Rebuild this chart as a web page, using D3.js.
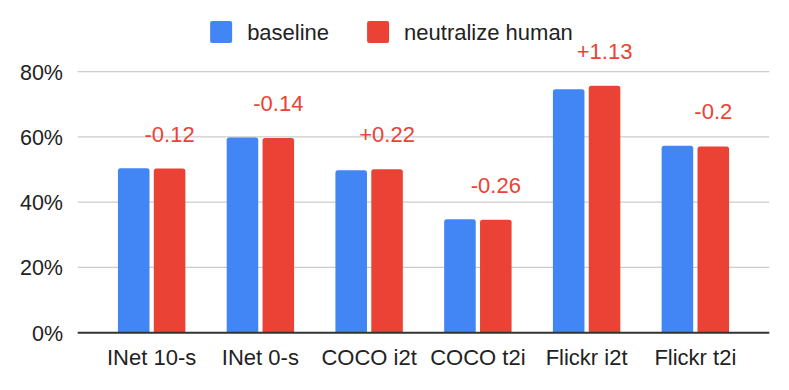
<!DOCTYPE html>
<html>
<head>
<meta charset="utf-8">
<script src="https://cdn.jsdelivr.net/npm/d3@7"></script>
<style>
  body { margin: 0; background: #fff; }
  svg { display: block; font-family: "Liberation Sans", Arial, sans-serif; }
</style>
</head>
<body>
<svg width="789" height="390"></svg>
<script>
const categories = ['INet 10-s', 'INet 0-s', 'COCO i2t', 'COCO t2i', 'Flickr i2t', 'Flickr t2i'];
const seriesNames = ['baseline', 'neutralize human'];
const baseline = [50.4, 59.8, 49.8, 34.8, 74.6, 57.3];
const neutralize = [50.3, 59.7, 50.1, 34.6, 75.7, 57.1];
const deltas = ['-0.12', '-0.14', '+0.22', '-0.26', '+1.13', '-0.2'];
const yTicks = [0, 20, 40, 60, 80];

const svg = d3.select('svg');
const width = +svg.attr('width');
const blue = '#4285F4';
const red = '#EA4335';
const colors = [blue, red];

const plotLeft = 77.7, plotRight = 769.3, plotTop = 71.7, plotBottom = 332.7;

const x0 = d3.scaleBand().domain(categories).range([plotLeft, plotRight])
  .paddingInner(0.38).paddingOuter(0.37);
const x1 = d3.scaleBand().domain(seriesNames).range([0, x0.bandwidth()])
  .paddingInner(0.12);
const y = d3.scaleLinear().domain([0, 80]).range([plotBottom, plotTop]);

// gridlines
svg.append('g').selectAll('line').data(yTicks.filter(d => d > 0)).join('line')
  .attr('x1', plotLeft).attr('x2', plotRight)
  .attr('y1', d => y(d)).attr('y2', d => y(d))
  .attr('stroke', '#cccccc').attr('stroke-width', 1.3);

// tick labels
svg.append('g').selectAll('text').data(yTicks).join('text')
  .attr('x', 63).attr('y', d => y(d) + 8)
  .attr('text-anchor', 'end')
  .attr('font-size', 21.5).attr('fill', '#222')
  .text(d => d + '%');

function topRounded(x, yTop, w, h, r) {
  return `M${x},${yTop + h}V${yTop + r}Q${x},${yTop} ${x + r},${yTop}` +
    `H${x + w - r}Q${x + w},${yTop} ${x + w},${yTop + r}V${yTop + h}Z`;
}

const rows = categories.map((c, i) => ({ cat: c, vals: [baseline[i], neutralize[i]], delta: deltas[i] }));

const groups = svg.append('g').selectAll('g').data(rows).join('g')
  .attr('transform', d => `translate(${x0(d.cat)},0)`);

groups.selectAll('path').data(d => d.vals.map((v, k) => ({ v, k }))).join('path')
  .attr('d', d => topRounded(x1(seriesNames[d.k]), y(d.v), x1.bandwidth(), plotBottom - y(d.v), 2.5))
  .attr('fill', d => colors[d.k]);

groups.append('text')
  .attr('x', x1(seriesNames[1]) + x1.bandwidth() / 2)
  .attr('y', d => y(d.vals[1]) - 27)
  .attr('text-anchor', 'middle')
  .attr('font-size', 22).attr('fill', red)
  .text(d => d.delta);

// baseline axis
svg.append('line')
  .attr('x1', plotLeft).attr('x2', plotRight).attr('y1', plotBottom).attr('y2', plotBottom)
  .attr('stroke', '#333').attr('stroke-width', 2);

// category labels
svg.append('g').selectAll('text').data(categories).join('text')
  .attr('x', d => x0(d) + x0.bandwidth() / 2).attr('y', 365)
  .attr('text-anchor', 'middle')
  .attr('font-size', 22).attr('fill', '#222')
  .text(d => d);

// legend
const legend = svg.append('g');
let lx = 0;
seriesNames.forEach((name, k) => {
  const item = legend.append('g').attr('transform', `translate(${lx},0)`);
  item.append('rect').attr('x', 0).attr('y', 21).attr('width', 22).attr('height', 22)
    .attr('rx', 2).attr('fill', colors[k]);
  const t = item.append('text').attr('x', 37).attr('y', 40)
    .attr('font-size', 22).attr('fill', '#222').text(name);
  lx += 37 + t.node().getComputedTextLength() + 38;
});
const legendW = lx - 38;
legend.attr('transform', `translate(${(width - legendW) / 2 - 3},0)`);
</script>
</body>
</html>
